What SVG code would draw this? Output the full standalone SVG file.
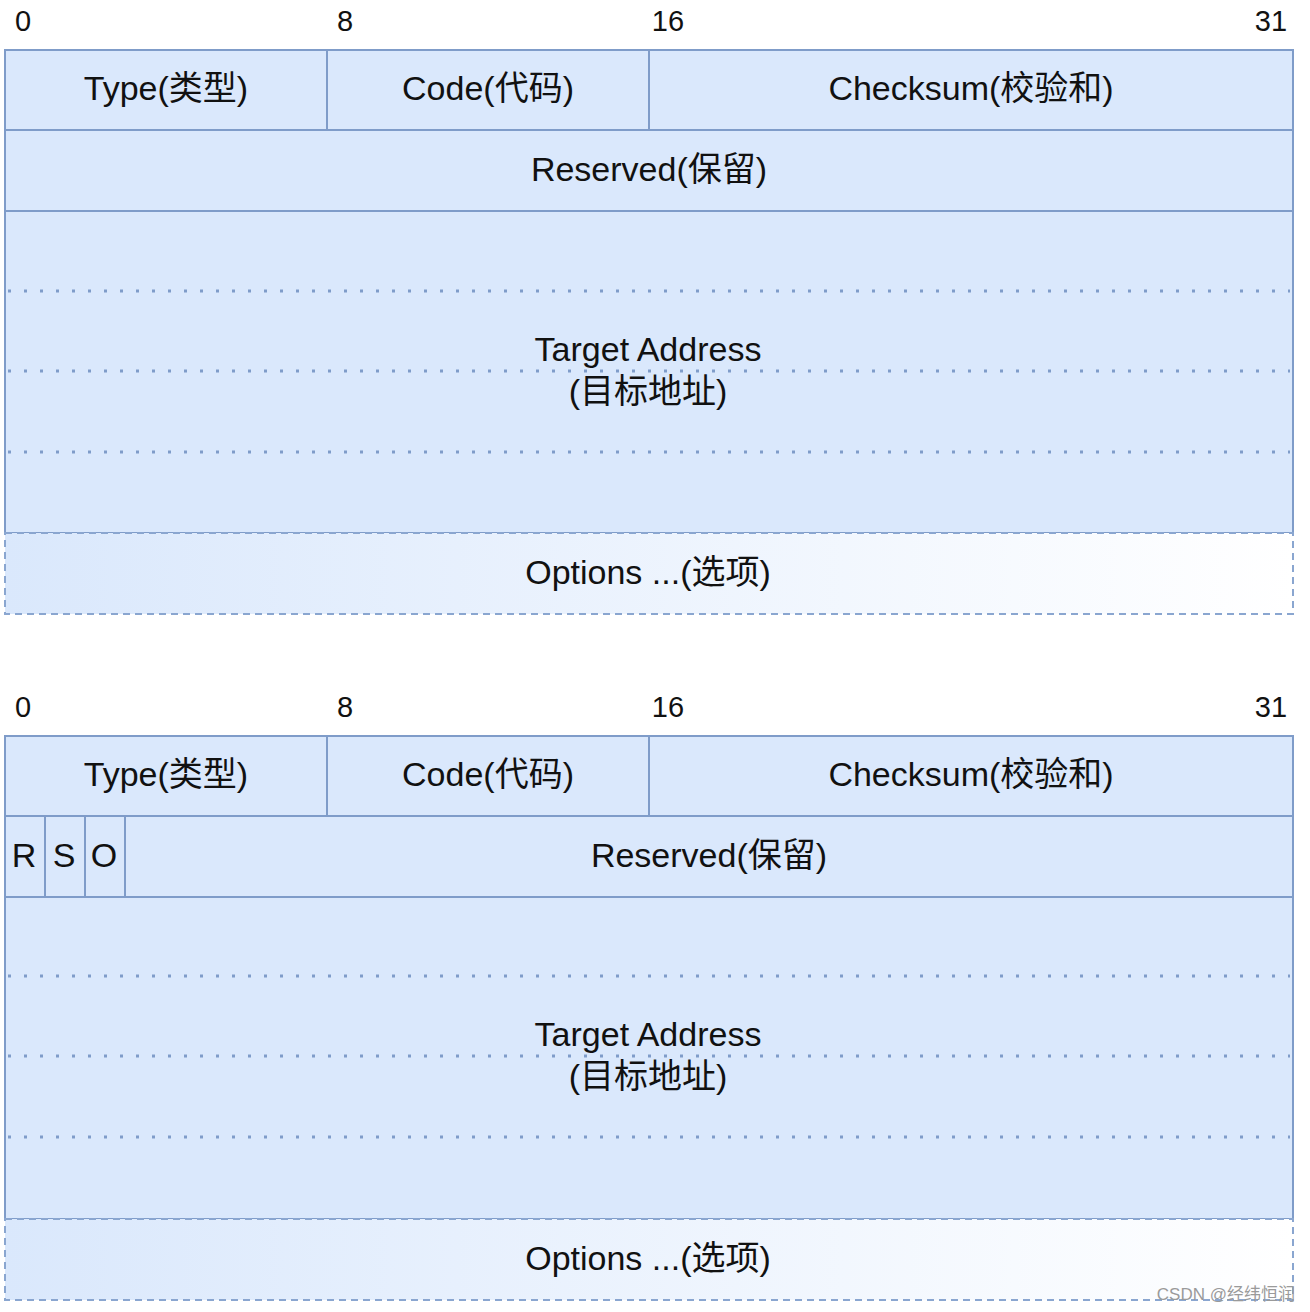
<svg xmlns="http://www.w3.org/2000/svg" width="1310" height="1312" viewBox="0 0 1310 1312">
<defs>
<linearGradient id="og" x1="0" y1="0" x2="1" y2="0">
<stop offset="0" stop-color="#dae8fc"/>
<stop offset="1" stop-color="#ffffff"/>
</linearGradient>
<style>
.cell{fill:#dae8fc;stroke:#7f9cc9;stroke-width:2}
.opt{fill:url(#og);stroke:#8aa6d0;stroke-width:2;stroke-dasharray:7 5}
.dot{stroke:#7f9cc9;stroke-width:3;stroke-dasharray:3 13;fill:none}
.t{font-family:"Liberation Sans","Noto Sans CJK SC",sans-serif;font-size:34px;fill:#111;text-anchor:middle}
.n{font-family:"Liberation Sans",sans-serif;font-size:29px;fill:#111;text-anchor:middle}
.wm{font-family:"Liberation Sans","Noto Sans CJK SC",sans-serif;font-size:17px;fill:#9a9a9a;text-anchor:end}
</style>
</defs>
<rect width="1310" height="1312" fill="#ffffff"/>

<g id="diagram1">
<g id="d1-bits">
<text class="n" x="23" y="31">0</text>
<text class="n" x="345" y="31">8</text>
<text class="n" x="668" y="31">16</text>
<text class="n" x="1271" y="31">31</text>
</g>
<g id="d1-type"><rect class="cell" x="5" y="50" width="322" height="80"/><text class="t" x="166" y="100">Type(类型)</text></g>
<g id="d1-code"><rect class="cell" x="327" y="50" width="322" height="80"/><text class="t" x="488" y="100">Code(代码)</text></g>
<g id="d1-checksum"><rect class="cell" x="649" y="50" width="644" height="80"/><text class="t" x="971" y="100">Checksum(校验和)</text></g>
<g id="d1-reserved"><rect class="cell" x="5" y="130" width="1288" height="81"/><text class="t" x="649" y="181">Reserved(保留)</text></g>
<g id="d1-target"><rect class="cell" x="5" y="211" width="1288" height="322"/>
<line class="dot" x1="8" y1="291" x2="1290" y2="291"/>
<line class="dot" x1="8" y1="371" x2="1290" y2="371"/>
<line class="dot" x1="8" y1="452" x2="1290" y2="452"/>
<text class="t" x="648" y="361">Target Address</text>
<text class="t" x="648" y="403">(目标地址)</text></g>
<g id="d1-options"><rect class="opt" x="5" y="533" width="1288" height="81"/><text class="t" x="648" y="584">Options ...(选项)</text></g>
</g>

<g id="diagram2">
<g id="d2-bits">
<text class="n" x="23" y="717">0</text>
<text class="n" x="345" y="717">8</text>
<text class="n" x="668" y="717">16</text>
<text class="n" x="1271" y="717">31</text>
</g>
<g id="d2-type"><rect class="cell" x="5" y="736" width="322" height="80"/><text class="t" x="166" y="786">Type(类型)</text></g>
<g id="d2-code"><rect class="cell" x="327" y="736" width="322" height="80"/><text class="t" x="488" y="786">Code(代码)</text></g>
<g id="d2-checksum"><rect class="cell" x="649" y="736" width="644" height="80"/><text class="t" x="971" y="786">Checksum(校验和)</text></g>
<g id="d2-r"><rect class="cell" x="5" y="816" width="40" height="81"/><text class="t" x="24" y="867">R</text></g>
<g id="d2-s"><rect class="cell" x="45" y="816" width="40" height="81"/><text class="t" x="64" y="867">S</text></g>
<g id="d2-o"><rect class="cell" x="85" y="816" width="40" height="81"/><text class="t" x="104" y="867">O</text></g>
<g id="d2-reserved"><rect class="cell" x="125" y="816" width="1168" height="81"/><text class="t" x="709" y="867">Reserved(保留)</text></g>
<g id="d2-target"><rect class="cell" x="5" y="897" width="1288" height="322"/>
<line class="dot" x1="8" y1="976" x2="1290" y2="976"/>
<line class="dot" x1="8" y1="1056" x2="1290" y2="1056"/>
<line class="dot" x1="8" y1="1137" x2="1290" y2="1137"/>
<text class="t" x="648" y="1046">Target Address</text>
<text class="t" x="648" y="1088">(目标地址)</text></g>
<g id="d2-options"><rect class="opt" x="5" y="1219" width="1288" height="81"/><text class="t" x="648" y="1270">Options ...(选项)</text></g>
</g>

<g id="connectors"/>
<text class="wm" x="1295" y="1300">CSDN @经纬恒润</text>
</svg>
